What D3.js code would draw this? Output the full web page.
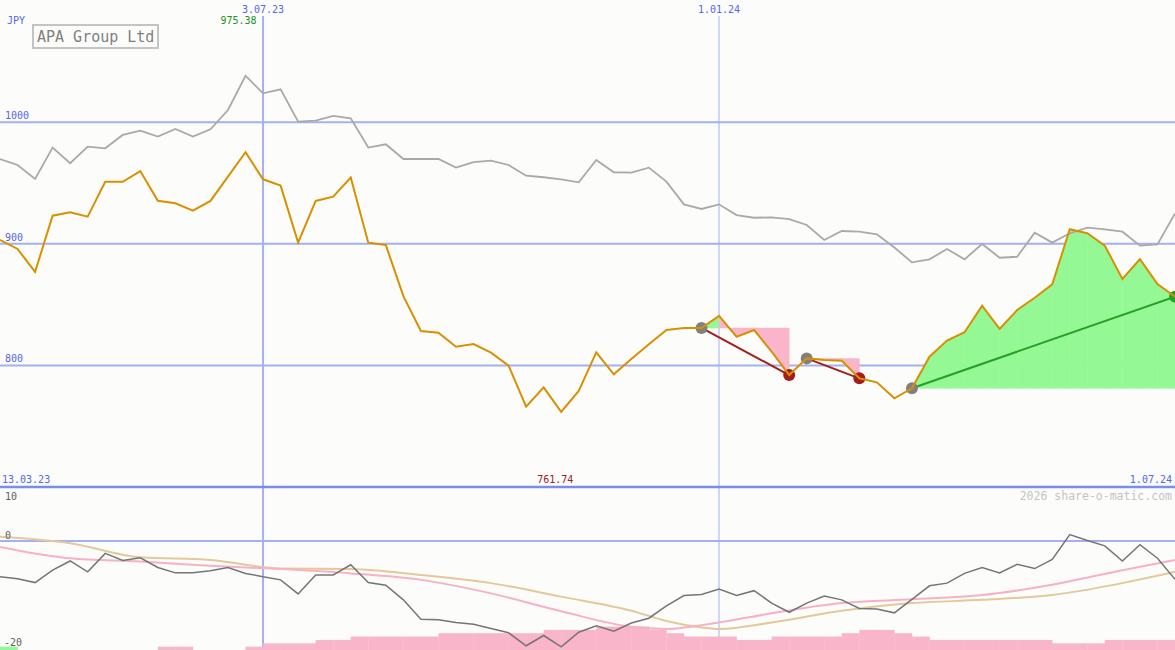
<!DOCTYPE html>
<html><head><meta charset="utf-8">
<script src="https://cdn.jsdelivr.net/npm/d3@7"></script>
<style>
body{margin:0;background:#fcfdfb;}
svg{display:block;}
text{font-family:"DejaVu Sans Mono","Liberation Mono",monospace;}
</style>
</head><body>
<svg id="c" width="1175" height="650"></svg>
<script>
// ---------- data ----------
const title = "APA Group Ltd";
const currency = "JPY";
const firstWeek = "2023-03-20";
const lastWeek = "2024-07-01";
const startLabel = "13.03.23";
const endLabel = "1.07.24";
const tickDates = ["2023-07-03", "2024-01-01"];
const tickLabels = ["3.07.23", "1.01.24"];
const priceTicks = [1000, 900, 800];
const lowerTicks = [10, 0, -20];
const watermark = "2026 share-o-matic.com";

const price = [903.2, 895.8, 876.9, 923.2, 926.0, 922.4, 951.1, 951.1, 959.9, 935.5,
  933.4, 927.3, 935.3, 955.3, 975.38, 953.1, 947.9, 901.0, 935.3, 938.8,
  954.5, 901.0, 899.1, 857.0, 828.3, 826.9, 815.4, 817.6, 810.5, 799.8,
  766.1, 782.0, 761.74, 779.0, 810.8, 792.7, 805.3, 817.4, 829.1, 830.8,
  830.8, 840.7, 823.6, 829.1, 811.3, 792.1, 805.8, 804.5, 803.9, 789.4,
  786.1, 773.0, 781.2, 807.2, 820.4, 827.3, 849.2, 830.0, 845.6, 855.7,
  866.7, 912.0, 908.7, 898.5, 871.1, 887.5, 867.0, 856.6];

const reference = [969.8, 964.9, 953.4, 979.2, 966.3, 980.0, 978.6, 989.6, 993.1, 988.2,
  994.5, 988.2, 994.2, 1010.1, 1038.3, 1023.8, 1027.1, 1000.5, 1001.3, 1005.2,
  1003.3, 979.2, 981.9, 969.8, 969.8, 969.8, 962.7, 967.3, 968.4, 964.9,
  956.1, 954.8, 953.1, 950.6, 969.0, 958.9, 958.6, 962.7, 951.2, 932.5,
  928.7, 932.5, 923.7, 921.5, 921.8, 920.4, 915.5, 903.2, 910.6, 910.0,
  907.9, 897.0, 884.8, 887.3, 895.8, 887.3, 899.9, 888.6, 889.4, 909.2,
  901.0, 908.7, 913.3, 912.0, 910.0, 898.5, 899.6, 925.1];

const highLabel = "975.38";
const lowLabel = "761.74";

// trades: start week index, end week index
const tradeStart = [40, 46, 52];
const tradeEnd = [45, 49, 67];

const momentum = [-6.6, -7.0, -7.7, -5.4, -3.7, -5.7, -2.3, -3.6, -3.1, -4.9,
  -5.9, -5.9, -5.5, -4.9, -6.0, -6.6, -7.2, -9.8, -6.3, -6.3,
  -4.4, -7.7, -8.2, -10.9, -14.5, -14.6, -15.1, -15.4, -16.2, -17.0,
  -19.4, -17.5, -19.6, -16.9, -15.7, -16.7, -15.2, -14.3, -12.0, -10.1,
  -9.9, -8.9, -10.1, -9.2, -11.5, -13.2, -11.5, -10.2, -10.9, -12.5,
  -12.6, -13.3, -10.8, -8.3, -7.8, -6.0, -4.9, -5.9, -4.3, -5.1,
  -3.4, 1.2, 0.1, -0.9, -3.7, -0.7, -3.2, -7.1];

const fastAvgWeek = [0, 4, 8, 12, 16, 20, 24, 28, 32, 36, 38, 40, 44, 48, 52, 56, 60, 64, 67];
const fastAvg = [-1.1, -3.2, -3.8, -4.6, -5.2, -6.0, -7.2, -9.7, -13.0, -15.9, -16.3, -15.6, -13.4, -11.5, -10.8, -10.0, -8.1, -5.4, -3.5];

const slowAvgWeek = [0, 4, 8, 12, 16, 20, 24, 28, 32, 36, 38, 40, 41, 44, 48, 52, 56, 60, 64, 67];
const slowAvg = [0.8, -0.4, -3.0, -3.5, -5.1, -5.2, -6.3, -7.8, -10.3, -12.9, -14.8, -16.0, -16.3, -15.1, -12.9, -11.5, -10.9, -10.0, -7.8, -5.7];

const signalBars = [1, 0, 0, 0, 0, 0, 0, 0, 0, -1, -1, 0, 0, 0, -1, -2, -2, -2, -3, -3,
  -4, -4, -4, -4, -4, -5, -5, -5, -5, -5, -5, -6, -6, -6, -7, -7, -7, -6, -5, -4,
  -4, -4, -3, -3, -4, -4, -4, -4, -5, -6, -6, -5, -4, -3, -3, -3, -3, -3, -3, -3,
  -2, -2, -2, -3, -3, -3, -3];

// ---------- setup ----------
const W = 1175, H = 650;
const svg = d3.select("#c");
const parse = d3.utcParse("%Y-%m-%d");
const t0 = parse(firstWeek), t1 = parse(lastWeek);
const weeks = price.map((_, i) => d3.utcDay.offset(t0, 7 * i));

const x = d3.scaleUtc().domain([t0, t1]).range([0, W]);
const y = d3.scaleLinear().domain([700, 1100.6]).range([487, 0]);
const yb = d3.scaleLinear().domain([-20, 10]).range([649, 487]);
const yv = d3.scaleLinear().domain([0, 7]).range([650, 626.5]);

const xi = i => x(weeks[i]);

const C = {
  grid: "#a3b1f2", axis: "#7b8bf2", tick: "#5366f0",
  orange: "#d99000", gray: "#a9a9a9",
  green: "#94f894", pink: "#f9b5ca",
  red: "#a31c1c", dgreen: "#26a026", dot: "#808080"
};

svg.append("rect").attr("width", W).attr("height", H).attr("fill", "#fcfdfb");

// ---------- grid ----------
const g = svg.append("g");
g.selectAll("line.h").data(priceTicks).join("line")
  .attr("x1", 0).attr("x2", W)
  .attr("y1", d => y(d)).attr("y2", d => y(d))
  .attr("stroke", C.grid).attr("stroke-width", 2);

g.selectAll("line.v").data(tickDates).join("line")
  .attr("x1", d => x(parse(d))).attr("x2", d => x(parse(d)))
  .attr("y1", 16).attr("y2", H)
  .attr("stroke", C.grid).attr("stroke-width", (d, i) => i === 0 ? 2 : 1);

g.append("line").attr("x1", 0).attr("x2", W).attr("y1", yb(0)).attr("y2", yb(0))
  .attr("stroke", C.grid).attr("stroke-width", 2);

g.append("line").attr("x1", 0).attr("x2", W).attr("y1", y(700)).attr("y2", y(700))
  .attr("stroke", C.axis).attr("stroke-width", 2.5);

// ---------- lower panel ----------
svg.append("g").selectAll("rect").data(signalBars).join("rect")
  .attr("x", (d, i) => xi(i))
  .attr("width", (d, i) => xi(i + 1) - xi(i) + 0.3)
  .attr("y", d => yv(Math.abs(d)))
  .attr("height", d => yv(0) - yv(Math.abs(d)))
  .attr("fill", d => d > 0 ? C.green : C.pink);

const lowLine = d3.line().x(d => xi(d[0])).y(d => yb(d[1]));
const smooth = d3.line().x(d => xi(d[0])).y(d => yb(d[1])).curve(d3.curveMonotoneX);

svg.append("path").datum(slowAvgWeek.map((w, k) => [w, slowAvg[k]]))
  .attr("d", smooth).attr("fill", "none").attr("stroke", "#e3c89a").attr("stroke-width", 2);
svg.append("path").datum(fastAvgWeek.map((w, k) => [w, fastAvg[k]]))
  .attr("d", smooth).attr("fill", "none").attr("stroke", "#f8b0c6").attr("stroke-width", 2);
svg.append("path").datum(momentum.map((v, i) => [i, v]))
  .attr("d", lowLine).attr("fill", "none").attr("stroke", "#757575").attr("stroke-width", 1.5);

// ---------- trade fills ----------
const fills = svg.append("g");
tradeStart.forEach((s, k) => {
  const e = tradeEnd[k];
  const level = price[s];
  for (let j = s; j < e; j++) {
    const seg = [j, j + 1];
    const area = d3.area().x(i => xi(i)).y0(y(level)).y1(i => y(price[i]));
    fills.append("path").datum(seg).attr("d", area)
      .attr("fill", price[j + 1] >= level ? C.green : C.pink)
      .attr("stroke", price[j + 1] >= level ? C.green : C.pink).attr("stroke-width", 0.5);
  }
});

// ---------- reference series ----------
const line = d3.line().x((d, i) => xi(i)).y(d => y(d));
svg.append("path").datum(reference).attr("d", line)
  .attr("fill", "none").attr("stroke", C.gray).attr("stroke-width", 1.8);

// ---------- trade lines & dots ----------
const tr = svg.append("g");
tradeStart.forEach((s, k) => {
  const e = tradeEnd[k];
  const win = price[e] >= price[s];
  const col = win ? C.dgreen : C.red;
  tr.append("line").attr("x1", xi(s)).attr("y1", y(price[s]))
    .attr("x2", xi(e)).attr("y2", y(price[e]))
    .attr("stroke", col).attr("stroke-width", 2);
  tr.append("circle").attr("cx", xi(s)).attr("cy", y(price[s])).attr("r", 6).attr("fill", C.dot);
  tr.append("circle").attr("cx", xi(e)).attr("cy", y(price[e])).attr("r", 6).attr("fill", col);
});

// ---------- main price line ----------
svg.append("path").datum(price).attr("d", line)
  .attr("fill", "none").attr("stroke", C.orange).attr("stroke-width", 2);

// ---------- texts ----------
const tx = svg.append("g").attr("font-size", 10);
tx.append("text").attr("x", 7).attr("y", 24).attr("fill", C.tick).text(currency);
tx.selectAll("text.pt").data(priceTicks).join("text")
  .attr("x", 5).attr("y", d => y(d) - 3).attr("fill", C.tick).text(d => d);
tx.selectAll("text.xt").data(tickDates).join("text")
  .attr("x", d => x(parse(d))).attr("y", 13).attr("text-anchor", "middle")
  .attr("fill", C.tick).text((d, i) => tickLabels[i]);
tx.append("text").attr("x", 2).attr("y", 483).attr("fill", C.tick).text(startLabel);
tx.append("text").attr("x", W - 3).attr("y", 483).attr("text-anchor", "end").attr("fill", C.tick).text(endLabel);

const hiIdx = price.indexOf(d3.max(price)), loIdx = price.indexOf(d3.min(price));
tx.append("text").attr("x", xi(hiIdx) + 11).attr("y", 24).attr("text-anchor", "end")
  .attr("fill", "#229022").text(highLabel);
tx.append("text").attr("x", xi(loIdx) - 6).attr("y", 483).attr("text-anchor", "middle")
  .attr("fill", "#a02020").text(lowLabel);

tx.selectAll("text.lt").data(lowerTicks).join("text")
  .attr("x", (d) => d < 0 ? 4 : 5)
  .attr("y", d => d === 10 ? 500 : d === 0 ? 539 : 646)
  .attr("fill", "#606060").text(d => d);

svg.append("text").attr("x", W - 3).attr("y", 500).attr("text-anchor", "end")
  .attr("font-size", 11.5).attr("fill", "#c4c4c4").text(watermark);

// title box
svg.append("rect").attr("x", 33).attr("y", 25).attr("width", 125).attr("height", 23)
  .attr("fill", "#fcfdfb").attr("stroke", "#c4c4c4").attr("stroke-width", 2);
svg.append("text").attr("x", 37).attr("y", 42).attr("font-size", 15)
  .attr("fill", "#808080").text(title);
</script>
</body></html>
